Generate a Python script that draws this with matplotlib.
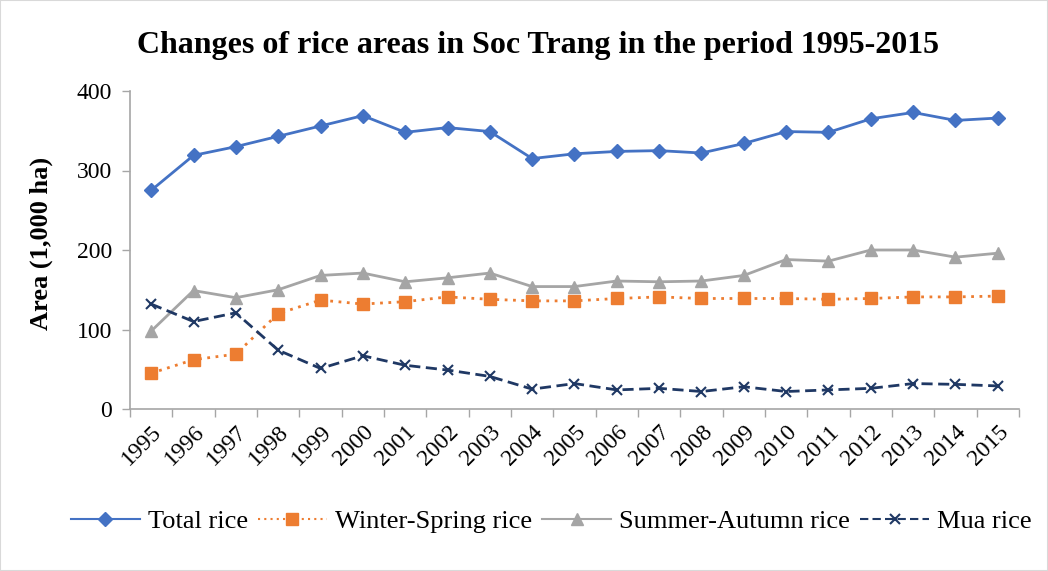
import matplotlib
matplotlib.use('Agg')
import matplotlib.pyplot as plt
from matplotlib.patches import Rectangle
import numpy as np

years = [str(y) for y in range(1995, 2016)]
total_rice = [275, 319, 330, 343, 356, 369, 348, 354, 349, 315, 321, 324, 325, 322, 334,
              349, 348, 365, 373, 363, 366]
winter_spring = [45, 62, 69, 120, 137, 132, 135, 141, 138, 136, 136, 139, 141, 139, 139,
                 139, 138, 139, 141, 141, 142]
summer_autumn = [98, 149, 140, 150, 168, 171, 160, 165, 171, 154, 154, 161, 160, 161, 168,
                 188, 186, 200, 200, 191, 196]
mua_rice = [132, 110, 121, 74, 51, 67, 55, 49, 41, 25, 32, 24, 26, 22, 28,
            22, 24, 26, 32, 31, 29]

plt.rcParams['font.family'] = 'Liberation Serif'
AXIS_GRAY = '#A6A6A6'

fig = plt.figure(figsize=(10.48, 5.71), dpi=100)
ax = fig.add_axes([130 / 1048, 1 - 409 / 571, 889 / 1048, 318 / 571])

x = np.arange(len(years))
ax.plot(x, total_rice, color='#4472C4', lw=2, marker='D', ms=7, label='Total rice')
ax.plot(x, winter_spring, color='#ED7D31', lw=2, ls=(0, (1, 2)), marker='s', ms=8,
        label='Winter-Spring rice')
ax.plot(x, summer_autumn, color='#A5A5A5', lw=2, marker='^', ms=8, label='Summer-Autumn rice')
ax.plot(x, mua_rice, color='#1F3864', lw=2, ls=(0, (4, 2)), marker='x', ms=7, mew=1.5,
        label='Mua rice')

ax.set_xlim(-0.5, len(years) - 0.5)
ax.set_ylim(0, 400)
ax.set_yticks([0, 100, 200, 300, 400])
ax.set_xticks(x)
ax.set_xticklabels(years, rotation=45, ha='right', rotation_mode='anchor', fontsize=17)
ax.set_xticks(np.arange(-0.5, len(years)), minor=True)
ax.tick_params(axis='x', which='major', length=0, pad=9)
ax.tick_params(axis='x', which='minor', length=6, color=AXIS_GRAY, width=1)
ax.tick_params(axis='y', length=6, color=AXIS_GRAY, width=1, labelsize=17, pad=7)

for s in ['top', 'right']:
    ax.spines[s].set_visible(False)
for s in ['left', 'bottom']:
    ax.spines[s].set_color(AXIS_GRAY)
    ax.spines[s].set_linewidth(1.2)

ax.set_ylabel('Area (1,000 ha)', fontsize=19, fontweight='bold')
ax.yaxis.set_label_coords((53 - 130) / 889, 0.522)
fig.text(0.513, 0.921, 'Changes of rice areas in Soc Trang in the period 1995-2015',
         ha='center', va='center', fontsize=23, fontweight='bold')

leg = fig.legend(loc='center', bbox_to_anchor=(0.526, 0.087), ncol=4, frameon=False,
                 fontsize=19, handlelength=2.6, columnspacing=0.4, handletextpad=0.3)
for h in leg.legend_handles:
    h.set_linewidth(1.5)

fig.patches.append(Rectangle((0, 0), 1, 1, transform=fig.transFigure, fill=False,
                             edgecolor='#D9D9D9', lw=1.5))

fig.savefig('out.png', dpi=100)
